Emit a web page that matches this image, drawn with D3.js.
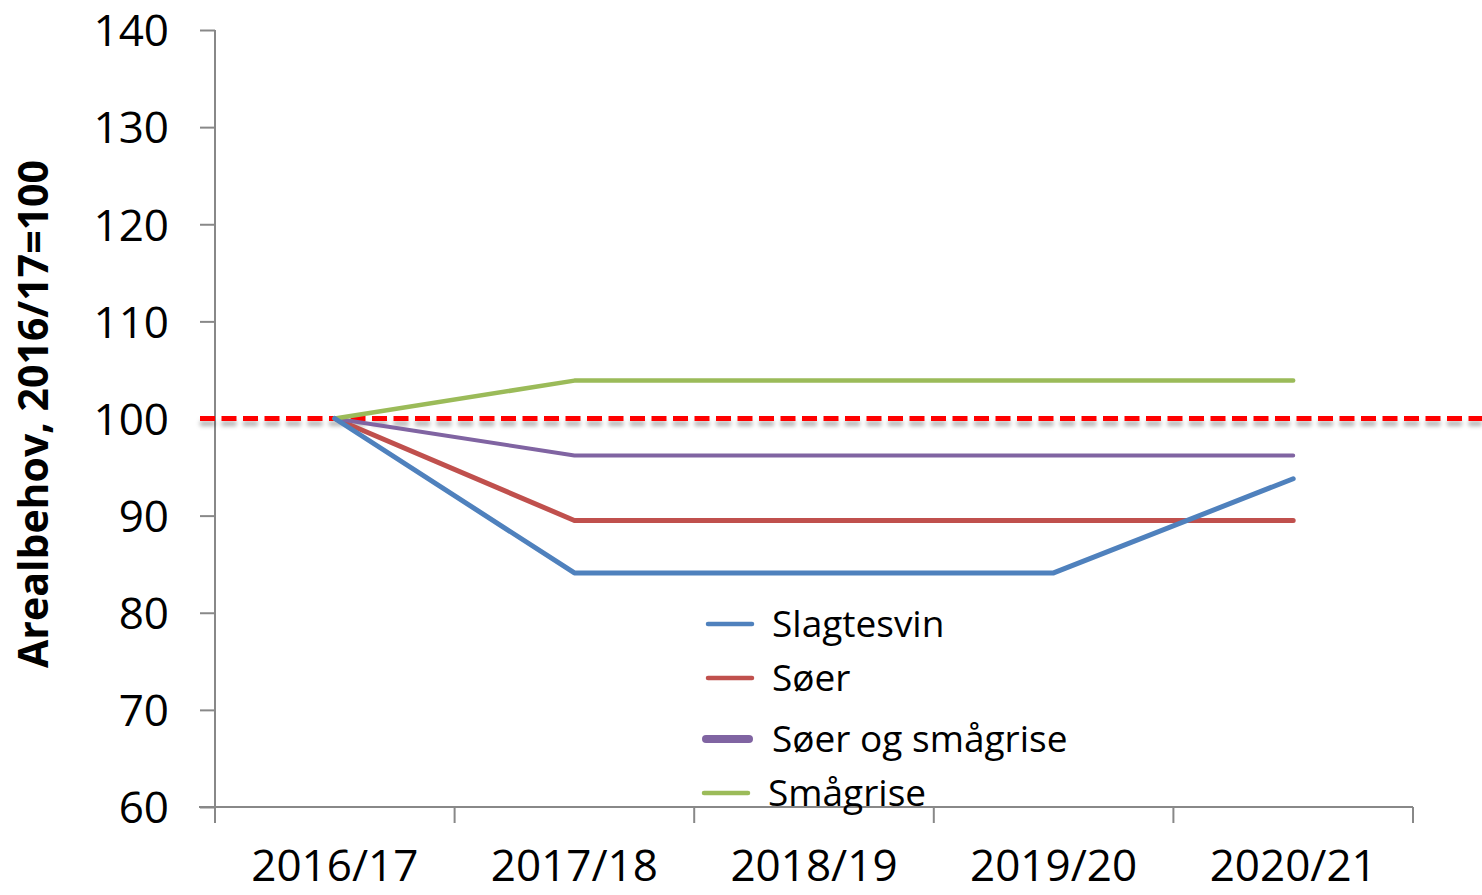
<!DOCTYPE html>
<html>
<head>
<meta charset="utf-8">
<script src="https://cdn.jsdelivr.net/npm/d3@7"></script>
<style>
  html, body { margin: 0; padding: 0; background: #fff; }
  svg { display: block; }
  text { font-family: "Open Sans", "Liberation Sans", sans-serif; fill: #000; }
</style>
</head>
<body>
<svg id="chart" width="1482" height="895"></svg>
<script>
const categories = ["2016/17", "2017/18", "2018/19", "2019/20", "2020/21"];
const slagtesvin = [100, 84.1, 84.1, 84.1, 93.8];
const soer = [100, 89.5, 89.5, 89.5, 89.5];
const soerOgSmagrise = [100, 96.2, 96.2, 96.2, 96.2];
const smagrise = [100, 103.9, 103.9, 103.9, 103.9];
const yTicks = [60, 70, 80, 90, 100, 110, 120, 130, 140];
const referenceValue = 100;
const seriesNames = ["Slagtesvin", "Søer", "Søer og smågrise", "Smågrise"];
const yTitle = "Arealbehov, 2016/17=100";

const colors = {
  "Slagtesvin": "#4F81BD",
  "Søer": "#C0504D",
  "Søer og smågrise": "#8064A2",
  "Smågrise": "#9BBB59"
};
const widths = {
  "Slagtesvin": 5,
  "Søer": 5,
  "Søer og smågrise": 4,
  "Smågrise": 4.5
};
const seriesData = {
  "Slagtesvin": slagtesvin,
  "Søer": soer,
  "Søer og smågrise": soerOgSmagrise,
  "Smågrise": smagrise
};

const svg = d3.select("#chart");
const mLeft = 215, mRight = 1413, mTop = 30, mBottom = 807;

const x = d3.scaleBand().domain(categories).range([mLeft, mRight]).padding(0);
const y = d3.scaleLinear().domain([60, 140]).range([mBottom, mTop]);
const cx = c => x(c) + x.bandwidth() / 2;

const axisColor = "#888888";

// Y axis
const yAxis = d3.axisLeft(y).tickValues(yTicks).tickSize(15).tickPadding(31).tickFormat(d3.format("d"));
const gy = svg.append("g").attr("transform", `translate(${mLeft},0)`).call(yAxis);
gy.select(".domain").remove();
gy.selectAll(".tick line").attr("stroke", axisColor).attr("stroke-width", 2);
gy.selectAll(".tick text").attr("font-size", 44).attr("dy", "0.36em")
  .style("font-family", '"Open Sans", sans-serif').attr("fill", "#000");
svg.append("line").attr("x1", mLeft).attr("x2", mLeft).attr("y1", mTop).attr("y2", mBottom + 16)
  .attr("stroke", axisColor).attr("stroke-width", 2);

// X axis
const xAxis = d3.axisBottom(x).tickSize(0).tickPadding(74);
const gx = svg.append("g").attr("transform", `translate(0,${mBottom})`).call(xAxis);
gx.select(".domain").remove();
gx.selectAll(".tick text").attr("font-size", 44).attr("dy", "0")
  .style("font-family", '"Open Sans", sans-serif').attr("fill", "#000");
svg.append("line").attr("x1", mLeft - 16).attr("x2", mRight).attr("y1", mBottom).attr("y2", mBottom)
  .attr("stroke", axisColor).attr("stroke-width", 2);
const boundaries = categories.map(c => x(c)).concat([x(categories[categories.length - 1]) + x.bandwidth()]);
svg.selectAll(".xtick").data(boundaries.slice(1)).enter().append("line")
  .attr("x1", d => d).attr("x2", d => d).attr("y1", mBottom).attr("y2", mBottom + 16)
  .attr("stroke", axisColor).attr("stroke-width", 2);

// Y axis title
svg.append("text")
  .attr("transform", `translate(48,${(160 + 668) / 2}) rotate(-90)`)
  .attr("text-anchor", "middle")
  .attr("font-size", 41)
  .attr("font-weight", "bold")
  .text(yTitle);

// Reference dashed line with shadow (drawn beneath the series)
const defs = svg.append("defs");
const f = defs.append("filter").attr("id", "shadow")
  .attr("filterUnits", "userSpaceOnUse")
  .attr("x", 0).attr("y", y(referenceValue) - 20).attr("width", 1482).attr("height", 45);
f.append("feDropShadow").attr("dx", 0).attr("dy", 5).attr("stdDeviation", 2.2)
  .attr("flood-color", "#000").attr("flood-opacity", 0.3);
svg.append("line")
  .attr("x1", mLeft - 15).attr("x2", 1482)
  .attr("y1", y(referenceValue)).attr("y2", y(referenceValue))
  .attr("stroke", "#FF0000").attr("stroke-width", 5)
  .attr("stroke-dasharray", "15,6.5")
  .attr("filter", "url(#shadow)");

// Series lines
const line = d3.line().x((d, i) => cx(categories[i])).y(d => y(d));
const drawOrder = ["Søer", "Søer og smågrise", "Smågrise", "Slagtesvin"];
drawOrder.forEach(name => {
  svg.append("path")
    .datum(seriesData[name])
    .attr("d", line)
    .attr("fill", "none")
    .attr("stroke", colors[name])
    .attr("stroke-width", widths[name])
    .attr("stroke-linecap", "round")
    .attr("stroke-linejoin", "round");
});

// Legend
const legendRows = [
  { name: "Slagtesvin", y: 624, x1: 708, x2: 752, tx: 772, w: 4.5 },
  { name: "Søer", y: 678, x1: 708, x2: 752, tx: 772, w: 4.5 },
  { name: "Søer og smågrise", y: 739, x1: 706, x2: 749, tx: 772, w: 8 },
  { name: "Smågrise", y: 793, x1: 704, x2: 748, tx: 768, w: 4.5 }
];
const lg = svg.append("g");
legendRows.forEach(r => {
  lg.append("line").attr("x1", r.x1).attr("x2", r.x2).attr("y1", r.y).attr("y2", r.y)
    .attr("stroke", colors[r.name]).attr("stroke-width", r.w).attr("stroke-linecap", "round");
  lg.append("text").attr("x", r.tx).attr("y", r.y).attr("dy", "0.36em")
    .attr("font-size", 37).text(r.name);
});
</script>
</body>
</html>
